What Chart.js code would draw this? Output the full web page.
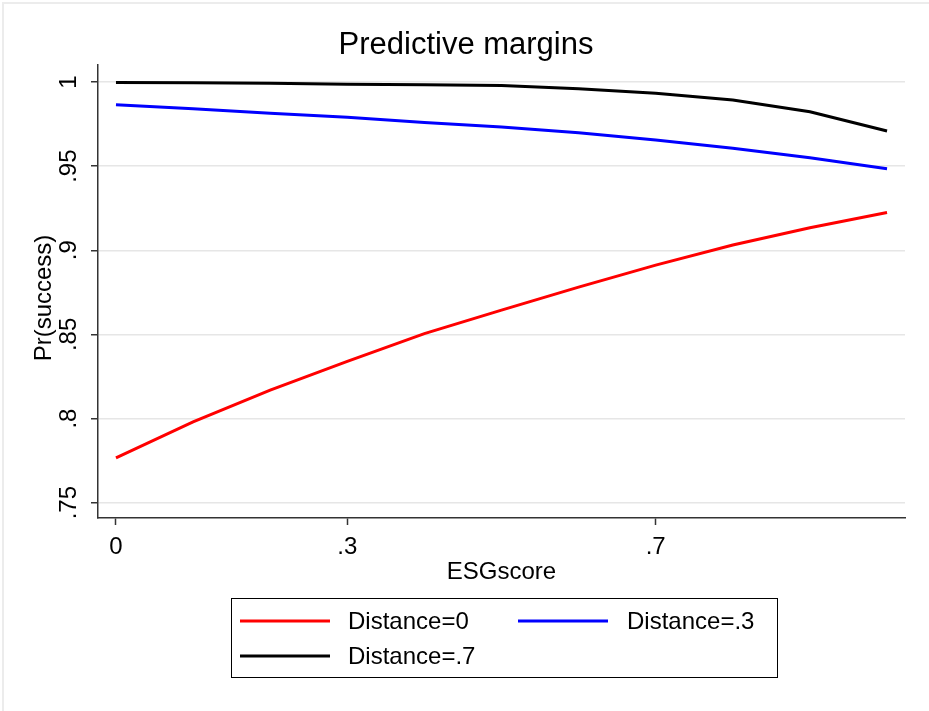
<!DOCTYPE html>
<html>
<head>
<meta charset="utf-8">
<script src="https://cdn.jsdelivr.net/npm/chart.js@4.4.1/dist/chart.umd.min.js"></script>
<style>
html,body{margin:0;padding:0;background:#fff;}
#wrap{width:929px;height:711px;position:relative;}
</style>
</head>
<body>
<div id="wrap"><canvas id="c" width="929" height="711"></canvas></div>
<script>
const esgScore = [0, 0.1, 0.2, 0.3, 0.4, 0.5, 0.6, 0.7, 0.8, 0.9, 1.0];
const distance0  = [0.7766, 0.7980, 0.8169, 0.8340, 0.8505, 0.8644, 0.8781, 0.8912, 0.9031, 0.9134, 0.9225];
const distance03 = [0.9865, 0.9841, 0.9814, 0.9790, 0.9760, 0.9732, 0.9699, 0.9655, 0.9606, 0.9550, 0.9485];
const distance07 = [0.9997, 0.9995, 0.9992, 0.9987, 0.9984, 0.9979, 0.9960, 0.9933, 0.9893, 0.9823, 0.9709];
const seriesNames = ['Distance=0', 'Distance=.3', 'Distance=.7'];
const xTickValues = [0, 0.3, 0.7];
const xTickLabels = ['0', '.3', '.7'];
const yTickValues = [0.75, 0.8, 0.85, 0.9, 0.95, 1];
const yTickLabels = ['.75', '.8', '.85', '.9', '.95', '1'];
const titleText = 'Predictive margins';
const xTitle = 'ESGscore';
const yTitle = 'Pr(success)';

const FONT = '"Liberation Sans", Arial, sans-serif';
const colors = ['#ff0000', '#0000ff', '#000000'];
const seriesData = [distance0, distance03, distance07];

const textPlugin = {
  id: 'texts',
  afterDraw(chart) {
    const ctx = chart.ctx;
    const ys = chart.scales.y;
    ctx.save();
    // outer frame (top and left edges only)
    ctx.strokeStyle = '#ececec';
    ctx.lineWidth = 2;
    ctx.beginPath();
    ctx.moveTo(3, 711);
    ctx.lineTo(3, 3);
    ctx.lineTo(929, 3);
    ctx.stroke();
    ctx.fillStyle = '#000';
    // title
    ctx.font = '31px ' + FONT;
    ctx.textAlign = 'center';
    ctx.textBaseline = 'middle';
    ctx.fillText(titleText, 466, 45);
    // x title
    ctx.font = '24px ' + FONT;
    ctx.fillText(xTitle, (chart.chartArea.left + chart.chartArea.right) / 2, 572);
    // y title
    ctx.save();
    ctx.translate(44, 298);
    ctx.rotate(-Math.PI / 2);
    ctx.fillText(yTitle, 0, 0);
    ctx.restore();
    // y tick labels rotated
    yTickValues.forEach((v, i) => {
      const py = ys.getPixelForValue(v);
      ctx.save();
      ctx.translate(69, py);
      ctx.rotate(-Math.PI / 2);
      ctx.fillText(yTickLabels[i], 0, 0);
      ctx.restore();
    });
    // legend
    ctx.strokeStyle = '#000';
    ctx.lineWidth = 1;
    ctx.strokeRect(231.5, 598.5, 546, 79);
    const items = [
      {lx: 240, ly: 621, tx: 348},
      {lx: 518, ly: 621, tx: 627},
      {lx: 240, ly: 656, tx: 348}
    ];
    ctx.textAlign = 'left';
    ctx.font = '24px ' + FONT;
    items.forEach((it, i) => {
      ctx.strokeStyle = colors[i];
      ctx.lineWidth = 3;
      ctx.beginPath();
      ctx.moveTo(it.lx, it.ly);
      ctx.lineTo(it.lx + 90, it.ly);
      ctx.stroke();
      ctx.fillStyle = '#000';
      ctx.fillText(seriesNames[i], it.tx, it.ly + 1);
    });
    ctx.restore();
  }
};

new Chart(document.getElementById('c'), {
  type: 'line',
  data: {
    datasets: seriesData.map((arr, i) => ({
      label: seriesNames[i],
      data: esgScore.map((x, j) => ({x: x, y: arr[j]})),
      borderColor: colors[i],
      borderWidth: 3,
      pointRadius: 0,
      tension: 0,
      fill: false
    }))
  },
  options: {
    responsive: false,
    animation: false,
    devicePixelRatio: 1,
    layout: {padding: {left: 0, top: 65, right: 24, bottom: 0}},
    plugins: {legend: {display: false}, title: {display: false}, tooltip: {enabled: false}},
    scales: {
      x: {
        type: 'linear',
        min: -0.0233,
        max: 1.0233,
        afterFit(s) { s.height = 193; },
        afterBuildTicks(s) { s.ticks = xTickValues.map(v => ({value: v})); },
        grid: {drawOnChartArea: false, drawTicks: true, tickLength: 7, tickColor: '#333', tickWidth: 1.5},
        border: {display: true, color: '#333', width: 1.5},
        ticks: {
          padding: 8,
          color: '#000',
          font: {family: FONT, size: 24},
          maxRotation: 0,
          autoSkip: false,
          callback(v) { const k = xTickValues.indexOf(v); return k >= 0 ? xTickLabels[k] : ''; }
        }
      },
      y: {
        type: 'linear',
        min: 0.7409,
        max: 1.0101,
        afterFit(s) { s.width = 98; },
        afterBuildTicks(s) { s.ticks = yTickValues.map(v => ({value: v})); },
        grid: {color: '#e6e6e6', lineWidth: 1.5, drawTicks: true, tickLength: 7, tickColor: '#333', tickWidth: 1.5},
        border: {display: true, color: '#333', width: 1.5},
        ticks: {display: false}
      }
    }
  },
  plugins: [textPlugin]
});
</script>
</body>
</html>
